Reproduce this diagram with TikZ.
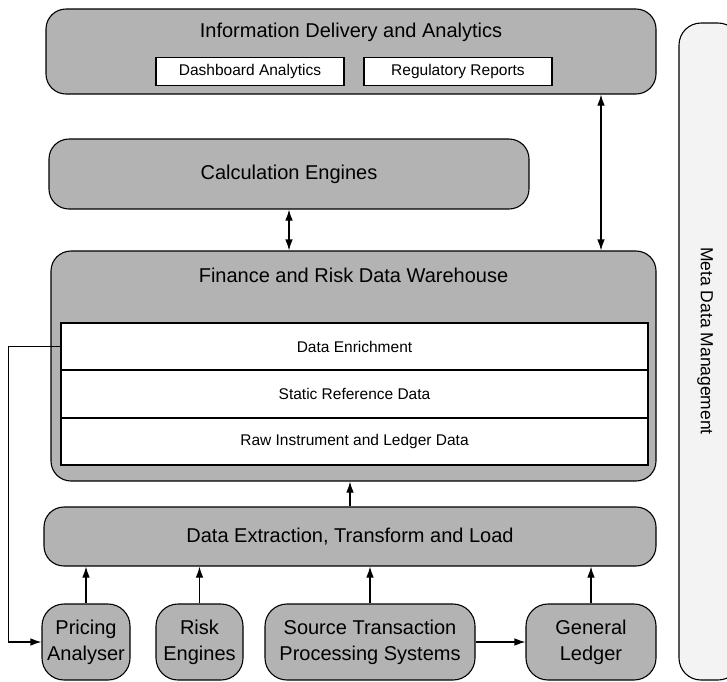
\documentclass[tikz,border=0pt]{standalone}
\usepackage{fontspec}
\setmainfont{Liberation Sans}
\usetikzlibrary{arrows.meta}
\definecolor{boxgray}{RGB}{179,179,179}
\definecolor{metagray}{RGB}{243,243,243}
\begin{document}
\begin{tikzpicture}[x=1pt,y=-1pt,
  gbox/.style={draw=black, line width=1.1pt, fill=boxgray, rounded corners=20pt, inner sep=0pt, align=center, font=\fontsize{20}{26}\selectfont},
  wbox/.style={draw=black, line width=1.1pt, fill=white, inner sep=0pt, font=\fontsize{15.5}{18}\selectfont},
  bigtext/.style={inner sep=0pt, font=\fontsize{20}{24}\selectfont},
  arr/.style={line width=1.1pt, -{Latex[length=11pt,width=7.5pt]}},
  darr/.style={line width=1.1pt, {Latex[length=11pt,width=7.5pt]}-{Latex[length=11pt,width=7.5pt]}}]
\useasboundingbox (0,0) rectangle (727,681);

% meta data management
\node[draw=black, line width=1.1pt, fill=metagray, rounded corners=22pt, minimum width=61pt, minimum height=657pt, inner sep=0pt] (meta) at (709.5,351.5) {};
\node[bigtext, font=\fontsize{17.5}{21}\selectfont, rotate=-90] (metatext) at (705,341) {Meta Data Management};

% information delivery
\node[gbox, minimum width=610pt, minimum height=85pt] (ida) at (351,51.5) {};
\node[bigtext] (idat) at (351,32) {Information Delivery and Analytics};
\node[wbox, minimum width=188pt, minimum height=28pt] (dash) at (250,71.5) {Dashboard Analytics};
\node[wbox, minimum width=188pt, minimum height=28pt] (reg) at (458,71.5) {Regulatory Reports};

% calculation engines
\node[gbox, minimum width=480pt, minimum height=70pt] (ce) at (289,174) {Calculation Engines};

% warehouse
\node[gbox, minimum width=605pt, minimum height=230pt] (frdw) at (353.5,366) {};
\node[bigtext] (frdwt) at (353.5,275) {Finance and Risk Data Warehouse};
\node[wbox, minimum width=587pt, minimum height=47pt] (de) at (354.5,346.5) {Data Enrichment};
\node[wbox, minimum width=587pt, minimum height=48pt] (srd) at (354.5,394) {Static Reference Data};
\node[wbox, minimum width=587pt, minimum height=47pt] (raw) at (354.5,441.5) {Raw Instrument and Ledger Data};

% ETL
\node[gbox, minimum width=612pt, minimum height=59pt] (etl) at (350,536.5) {Data Extraction, Transform and Load};

% sources
\node[gbox, rounded corners=22pt, minimum width=88pt, minimum height=76pt] (pa) at (86,642) {Pricing\\Analyser};
\node[gbox, rounded corners=22pt, minimum width=87pt, minimum height=76pt] (re) at (199.5,642) {Risk\\Engines};
\node[gbox, rounded corners=22pt, minimum width=210pt, minimum height=76pt] (stps) at (370,642) {Source Transaction\\Processing Systems};
\node[gbox, rounded corners=22pt, minimum width=130pt, minimum height=76pt] (gl) at (591,642) {General\\Ledger};

% connectors
\coordinate (mx) at (601,0);
\draw[darr] (ida.south -| mx) -- (frdw.north -| mx);
\draw[darr] (ce.south) -- (ce.south |- frdw.north);
\draw[arr] (etl.north) -- (etl.north |- frdw.south);
\draw[arr] (pa.north) -- (pa.north |- etl.south);
\draw[arr] (re.north) -- (re.north |- etl.south);
\draw[arr] (stps.north) -- (stps.north |- etl.south);
\draw[arr] (gl.north) -- (gl.north |- etl.south);
\draw[arr] (stps.east) -- (gl.west);
\draw[arr] (de.west) -- ++(-52,0) |- (pa.west);
\end{tikzpicture}
\end{document}
